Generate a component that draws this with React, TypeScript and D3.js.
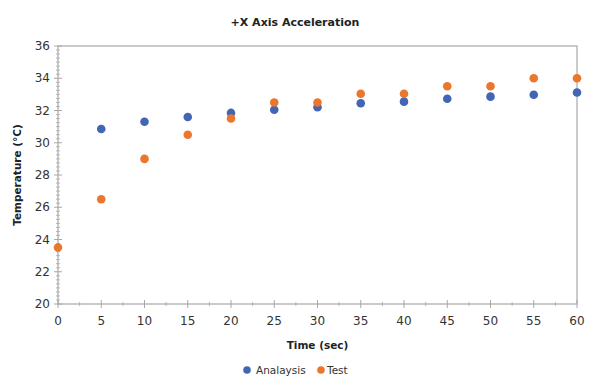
import * as d3 from 'd3'

const times = [0, 5, 10, 15, 20, 25, 30, 35, 40, 45, 50, 55, 60]
const analysis: (number | null)[] = [null, 30.85, 31.3, 31.6, 31.85, 32.05, 32.2, 32.45, 32.55, 32.73, 32.86, 32.98, 33.12]
const test: (number | null)[] = [23.5, 26.5, 29.0, 30.5, 31.5, 32.5, 32.5, 33.04, 33.04, 33.5, 33.5, 34.0, 34.0]
const yTicks = [20, 22, 24, 26, 28, 30, 32, 34, 36]
const xTicks = [0, 5, 10, 15, 20, 25, 30, 35, 40, 45, 50, 55, 60]
const seriesNames = ['Analaysis', 'Test']
const seriesColors = ['#4266b3', '#eb772e']

const W = 592
const H = 390
const margin = { top: 46, right: 15, bottom: 86, left: 58 }
const font = '"DejaVu Sans", Verdana, sans-serif'
const axisColor = '#a8a8a8'

export default function App() {
  const x = d3.scaleLinear().domain([0, 60]).range([margin.left, W - margin.right])
  const y = d3.scaleLinear().domain([20, 36]).range([H - margin.bottom, margin.top])
  const minorY = d3.range(20, 36.001, 0.25).filter(v => !yTicks.includes(v))
  const minorX = d3.range(2.5, 60, 5)
  const series = [analysis, test]

  return (
    <svg width={W} height={H} style={{ position: 'absolute', left: 0, top: 0, background: '#fff' }}>
      <text x={295} y={26} textAnchor="middle" fontFamily={font} fontSize={11} fontWeight="bold" fill="#222">
        +X Axis Acceleration
      </text>

      {/* frame */}
      <rect x={x(0)} y={y(36)} width={x(60) - x(0)} height={y(20) - y(36)} fill="none" stroke={axisColor} strokeWidth={1.2} />

      {/* y ticks */}
      {minorY.map(v => (
        <line key={'my' + v} x1={x(0) - 2} x2={x(0) + 2} y1={y(v)} y2={y(v)} stroke={axisColor} strokeWidth={0.8} />
      ))}
      {yTicks.map(v => (
        <g key={'y' + v}>
          <line x1={x(0) - 4} x2={x(0) + 4} y1={y(v)} y2={y(v)} stroke={axisColor} strokeWidth={1} />
          <text x={x(0) - 8} y={y(v)} dy="0.35em" textAnchor="end" fontFamily={font} fontSize={12} fill="#333">
            {v}
          </text>
        </g>
      ))}

      {/* x ticks */}
      {minorX.map(v => (
        <line key={'mx' + v} x1={x(v)} x2={x(v)} y1={y(20) - 2} y2={y(20) + 2} stroke={axisColor} strokeWidth={0.8} />
      ))}
      {xTicks.map(v => (
        <g key={'x' + v}>
          <line x1={x(v)} x2={x(v)} y1={y(20) - 4} y2={y(20) + 4} stroke={axisColor} strokeWidth={1} />
          <text x={x(v)} y={y(20) + 21} textAnchor="middle" fontFamily={font} fontSize={12} fill="#333">
            {v}
          </text>
        </g>
      ))}

      <text x={(x(0) + x(60)) / 2} y={349} textAnchor="middle" fontFamily={font} fontSize={10.5} fontWeight="bold" fill="#222">
        Time (sec)
      </text>
      <text
        transform={`translate(21,${(y(20) + y(36)) / 2}) rotate(-90)`}
        textAnchor="middle"
        fontFamily={font}
        fontSize={10.5}
        fontWeight="bold"
        fill="#222"
      >
        Temperature (°C)
      </text>

      {/* points */}
      {series.map((s, i) =>
        s.map((v, j) =>
          v === null ? null : (
            <circle key={i + '-' + j} cx={x(times[j])} cy={y(v)} r={4.3} fill={seriesColors[i]} />
          )
        )
      )}

      {/* legend */}
      <g fontFamily={font} fontSize={10.5} fill="#333">
        <circle cx={247} cy={370} r={3.8} fill={seriesColors[0]} />
        <text x={256} y={370} dy="0.35em">{seriesNames[0]}</text>
        <circle cx={321} cy={370} r={3.8} fill={seriesColors[1]} />
        <text x={327} y={370} dy="0.35em">{seriesNames[1]}</text>
      </g>
    </svg>
  )
}
